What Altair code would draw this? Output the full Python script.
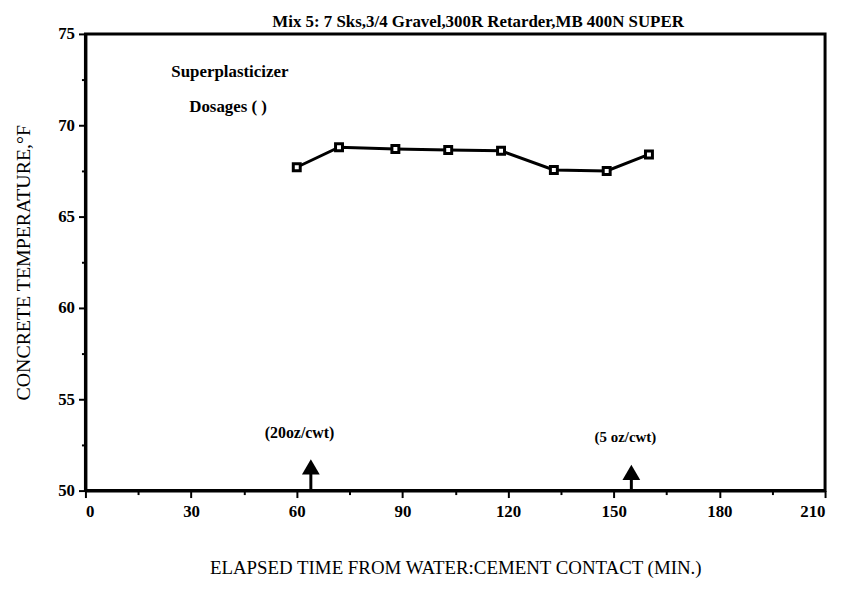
import altair as alt
import pandas as pd

# ---- data ----
times = [60, 72, 88, 103, 118, 133, 148, 160]
temps = [67.7, 68.8, 68.7, 68.65, 68.6, 67.55, 67.5, 68.4]

note_text = ["Superplasticizer", "Dosages ( )", "(20oz/cwt)", "(5  oz/cwt)"]
note_x = [41.0, 40.5, 60.8, 153.3]
note_y = [72.9, 71.0, 53.15, 52.95]
note_size = [17, 17, 16, 15]

arrow_x = [64, 155]
arrow_base = [50, 50]
arrow_tip = [51.3, 51.0]

x_ticks = list(range(0, 211, 15))
y_ticks = [50 + 2.5 * i for i in range(11)]

FONT = "Liberation Serif"

df = pd.DataFrame({"t": times, "temp": temps})
notes = pd.DataFrame({"text": note_text, "x": note_x, "y": note_y, "s": note_size})
arrows = pd.DataFrame({"x": arrow_x, "y0": arrow_base, "y1": arrow_tip})

xscale = alt.Scale(domain=[0, 210], nice=False, zero=False)
yscale = alt.Scale(domain=[50, 75], nice=False, zero=False)

xaxis = alt.Axis(
    values=x_ticks,
    labelExpr="datum.value % 30 == 0 ? datum.label : ''",
    tickSize={"condition": {"test": "datum.value % 30 != 0", "value": 4}, "value": 7},
    title="ELAPSED TIME FROM WATER:CEMENT CONTACT (MIN.)",
    titleFontSize=19,
    titlePadding=40,
    labelPadding=6,
)
yaxis = alt.Axis(
    values=y_ticks,
    labelExpr="datum.value % 5 == 0 ? datum.label : ''",
    tickSize={"condition": {"test": "datum.value % 5 != 0", "value": 4}, "value": 7},
    title="CONCRETE TEMPERATURE,°F",
    titleFontSize=20,
    titlePadding=24,
    labelPadding=4,
)

x = alt.X("t:Q", scale=xscale, axis=xaxis)
y = alt.Y("temp:Q", scale=yscale, axis=yaxis)

line = alt.Chart(df).mark_line(color="black", strokeWidth=3).encode(x=x, y=y)
pts = alt.Chart(df).mark_square(size=49, color="white", stroke="black",
                                strokeWidth=3, opacity=1).encode(x=x, y=y)

txt = alt.Chart(notes).mark_text(font=FONT, fontWeight="bold",
                                 color="black").encode(
    x=alt.X("x:Q", scale=xscale), y=alt.Y("y:Q", scale=yscale), text="text:N",
    size=alt.Size("s:Q", scale=None, legend=None))

shaft = alt.Chart(arrows).mark_rule(color="black", strokeWidth=3).encode(
    x=alt.X("x:Q", scale=xscale), y=alt.Y("y0:Q", scale=yscale), y2="y1:Q")
head = alt.Chart(arrows).mark_point(shape="triangle-up", size=320, filled=True,
                                    color="black", opacity=1).encode(
    x=alt.X("x:Q", scale=xscale), y=alt.Y("y1:Q", scale=yscale))

chart = alt.layer(line, pts, shaft, head, txt).properties(
    width=745,
    height=460,
    autosize=alt.AutoSizeParams(type="none"),
    padding={"left": 78, "top": 24, "right": 8, "bottom": 96},
    title=alt.TitleParams(
        "Mix 5:  7 Sks,3/4 Gravel,300R  Retarder,MB  400N  SUPER",
        font=FONT, fontSize=17, fontWeight="bold", color="black",
        anchor="middle", dx=23, offset=-19, baseline="alphabetic",
    ),
).configure_view(
    stroke="black", strokeWidth=3
).configure_axis(
    domainColor="black", domainWidth=3, tickColor="black", tickWidth=2,
    grid=False, labelFont=FONT, labelFontSize=17, labelFontWeight="bold",
    labelColor="black", titleFont=FONT,
    titleFontWeight="normal", titleColor="black",
)

chart.save("out.html", embed_options={"renderer": "svg", "actions": False})
